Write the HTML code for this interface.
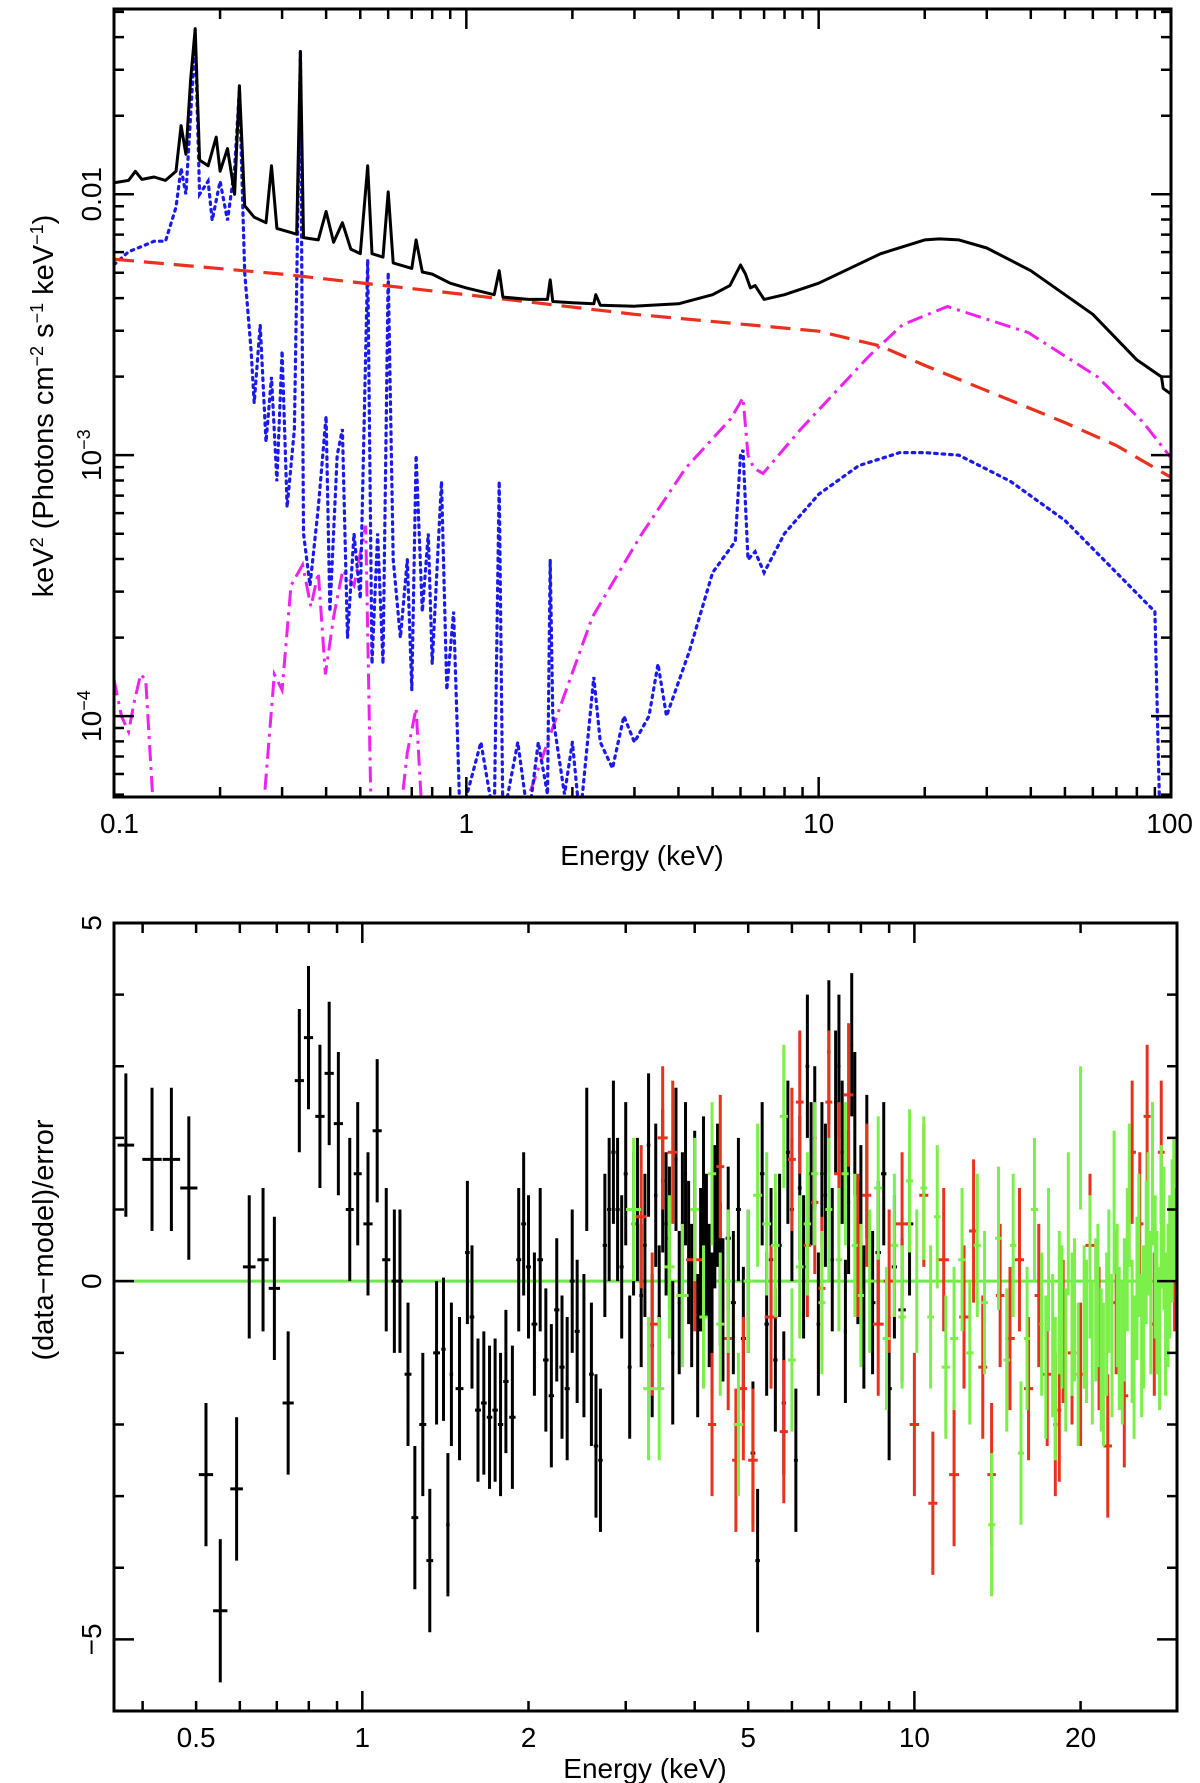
<!DOCTYPE html>
<html><head><meta charset="utf-8"><style>
body{margin:0;background:#fff}
svg{display:block;font-family:"Liberation Sans",sans-serif}
</style></head><body>
<svg id="c" width="1200" height="1783" viewBox="0 0 1200 1783" xmlns="http://www.w3.org/2000/svg">
<defs>
<clipPath id="clipTop"><rect x="114" y="9" width="1057" height="788"/></clipPath>
<clipPath id="clipBot"><rect x="114" y="923" width="1063" height="788"/></clipPath>
</defs>
<g id="top"></g>
<g id="bot"></g>
</svg>
<script>
// ---------- TOP PANEL DATA (energy keV, log10 flux) ----------
const blackE=[0.1,0.11,0.115,0.12,0.13,0.14,0.15,0.155,0.16,0.165,0.17,0.175,0.185,0.195,0.2,0.21,0.22,0.227,0.235,0.25,0.27,0.28,0.29,0.33,0.338,0.345,0.38,0.4,0.42,0.445,0.47,0.5,0.525,0.54,0.58,0.6,0.62,0.7,0.72,0.75,0.8,0.9,1,1.2,1.24,1.27,1.5,1.7,1.73,1.76,2,2.3,2.33,2.4,3,4,5,5.6,6.0,6.2,6.4,6.6,7,8,10,15,20,22,25,30,40,60,80,94,95,100];
const blackL=[-1.956,-1.947,-1.912,-1.943,-1.934,-1.947,-1.912,-1.737,-1.847,-1.562,-1.365,-1.869,-1.891,-1.781,-1.912,-1.825,-2.000,-1.584,-2.044,-2.088,-2.109,-1.891,-2.131,-2.153,-1.453,-2.166,-2.175,-2.066,-2.184,-2.109,-2.210,-2.228,-1.891,-2.228,-2.241,-1.991,-2.263,-2.284,-2.175,-2.298,-2.306,-2.341,-2.359,-2.385,-2.293,-2.394,-2.403,-2.403,-2.328,-2.411,-2.416,-2.420,-2.385,-2.425,-2.429,-2.420,-2.385,-2.350,-2.271,-2.306,-2.359,-2.350,-2.403,-2.385,-2.341,-2.228,-2.175,-2.171,-2.175,-2.206,-2.293,-2.460,-2.635,-2.700,-2.744,-2.766];
const redE=[0.1,0.3,1,3,10,15,20,30,50,70,100];
const redL=[-2.249,-2.306,-2.385,-2.460,-2.525,-2.582,-2.656,-2.753,-2.875,-2.963,-3.085];
const magE=[0.1,0.105,0.11,0.114,0.119,0.123,0.13,null,0.264,0.285,0.30,0.318,0.343,0.362,0.38,0.398,0.42,0.446,0.48,0.518,0.537,null,0.647,0.68,0.72,0.75,null,1.42,1.84,2.28,3.12,4.19,5.63,6.1,6.3,6.55,6.95,8.9,13.9,17.3,23.2,39.3,61.9,83.5,100];
const magL=[-3.86,-4.0,-4.06,-3.95,-3.84,-3.86,-4.4,null,-4.4,-3.84,-3.9,-3.50,-3.42,-3.58,-3.45,-3.84,-3.62,-3.44,-3.5,-3.27,-4.4,null,-4.4,-4.14,-3.97,-4.4,null,-4.4,-3.97,-3.62,-3.31,-3.05,-2.86,-2.78,-3.0,-3.05,-3.07,-2.90,-2.62,-2.50,-2.43,-2.53,-2.70,-2.875,-3.01];
const blueE=[0.1,0.11,0.12,0.13,0.14,0.15,0.155,0.16,0.165,0.17,0.175,0.185,0.19,0.2,0.21,0.22,0.227,0.235,0.245,0.25,0.26,0.27,0.28,0.29,0.3,0.31,0.325,0.338,0.345,0.36,0.38,0.4,0.41,0.43,0.445,0.46,0.48,0.5,0.525,0.54,0.56,0.58,0.6,0.62,0.65,0.68,0.7,0.72,0.75,0.78,0.8,0.85,0.88,0.92,0.96,1.1,1.2,1.24,1.27,1.4,1.5,1.6,1.7,1.73,1.76,1.9,2.0,2.1,2.3,2.4,2.6,2.8,3.0,3.3,3.5,3.7,4.3,5,5.8,6.0,6.1,6.3,6.6,7,8,10,13,17,20,25,35,50,70,90,93];
const blueL=[-2.27,-2.22,-2.20,-2.18,-2.18,-2.05,-1.90,-2.0,-1.70,-1.40,-2.0,-1.95,-2.1,-1.95,-2.1,-1.90,-1.60,-2.3,-2.6,-2.8,-2.5,-2.95,-2.7,-3.1,-2.6,-3.2,-2.9,-1.45,-3.3,-3.5,-3.2,-2.85,-3.6,-3.0,-2.9,-3.7,-3.3,-3.55,-2.25,-3.8,-3.3,-3.8,-2.3,-3.4,-3.7,-3.4,-3.9,-3.0,-3.6,-3.3,-3.8,-3.1,-3.9,-3.6,-4.4,-4.1,-4.4,-3.1,-4.4,-4.1,-4.4,-4.1,-4.3,-3.4,-4.0,-4.3,-4.1,-4.4,-3.85,-4.1,-4.2,-4.0,-4.1,-4.0,-3.8,-4.0,-3.75,-3.45,-3.33,-3.0,-2.98,-3.4,-3.37,-3.45,-3.3,-3.15,-3.04,-2.99,-2.99,-3.0,-3.1,-3.25,-3.45,-3.6,-4.4];
const topXTicks=[0.1,1,10,100];
const topXLabels=["0.1","1","10","100"];
const topYTicks=[-2,-3,-4];
const topYLabels=[["0.01",""],["10","−3"],["10","−4"]];

// ---------- BOTTOM PANEL DATA (energy keV, residual) ----------
const blkE=[0.373,0.416,0.451,0.485,0.521,0.553,0.592,0.624,0.661,0.693,0.734,0.769,0.799,0.838,0.871,0.905,0.949,0.981,1.024,1.064,1.105,1.143,1.17,1.21,1.245,1.287,1.325,1.363,1.403,1.429,1.45,1.50,1.55,1.58,1.62,1.66,1.70,1.74,1.78,1.82,1.87,1.92,1.96,2.00,2.05,2.10,2.15,2.20,2.25,2.30,2.35,2.40,2.45,2.52,2.55,2.6,2.65,2.7,2.75,2.8,2.85,2.9,2.95,3.0,3.05,3.1,3.15,3.2,3.25,3.3,3.35,3.4,3.45,3.5,3.55,3.6,3.65,3.7,3.75,3.8,3.85,3.9,3.95,4.0,4.05,4.1,4.15,4.2,4.25,4.3,4.35,4.4,4.45,4.5,4.6,4.7,4.8,4.9,5.0,5.1,5.2,5.3,5.4,5.5,5.6,5.7,5.8,5.9,6.0,6.1,6.2,6.3,6.4,6.5,6.6,6.7,6.8,6.9,7.0,7.1,7.2,7.3,7.4,7.5,7.6,7.7,7.8,7.9,8.0,8.1,8.2,8.4,8.6,8.8,9.0,9.2,9.5,9.8];
const blkR=[1.9,1.7,1.7,1.3,-2.7,-4.6,-2.9,0.2,0.3,-0.1,-1.7,2.8,3.4,2.3,2.9,2.2,1.0,1.5,0.8,2.1,0.3,0.0,0.0,-1.3,-3.3,-2.0,-3.9,-1.0,-0.95,-3.4,-1.3,-1.5,0.4,-0.5,-1.8,-1.7,-1.9,-1.8,-2.0,-1.4,-1.9,0.3,0.8,0.2,-0.6,0.3,-1.1,-1.6,-0.4,-1.2,-1.5,0.0,-0.7,-0.9,1.7,-1.3,-2.3,-2.5,0.5,1.0,1.8,1.0,0.2,1.5,-1.2,0.8,1.0,-0.2,0.5,1.9,-0.9,1.2,-0.5,1.4,0.8,0.6,-1.0,1.7,-0.3,0.8,1.5,0.4,-0.2,1.1,-0.9,0.3,1.3,0.5,-0.2,-0.6,0.9,1.2,0.1,-0.4,0.6,-0.3,1.0,-0.8,0.0,-2.4,-3.9,1.5,-0.6,0.3,-1.1,0.5,-1.7,1.8,1.0,-2.5,1.3,0.2,3.0,1.5,2.0,-0.6,1.5,1.2,3.2,0.3,2.5,3.0,1.8,-0.7,1.1,3.3,2.2,0.4,0.9,-0.5,1.6,-0.3,0.4,1.5,-1.5,0.2,-0.4,0.8];
const redE2=[3.2,3.35,3.5,3.65,4.0,4.3,4.45,4.6,4.75,4.9,5.1,5.5,5.8,6.0,6.2,6.4,6.6,6.8,7.0,7.3,7.6,7.9,8.2,8.6,9.0,9.5,10,10.4,10.8,11.3,11.8,12.3,12.8,13.3,13.8,14.3,14.9,15.5,16.1,16.8,17.4,18,18.3,18.6,19.3,20,20.8,21.6,22.4,23.2,24,24.8,25.6,26.4,27.2,28,28.8,29.6];
const redR=[0.9,-0.6,2.0,1.8,0.3,-2.0,1.6,-0.8,-2.5,-1.5,-2.5,-0.5,-2.1,1.7,2.5,0.5,1.1,-0.1,2.5,1.5,2.6,0.5,1.2,-0.6,0.0,0.8,-2.0,1.2,-3.1,0.3,-2.7,-0.5,0.7,-1.2,-2.7,-0.2,-0.8,0.3,-1.5,-0.2,-1.3,-2.0,-1.8,-0.7,-1.0,-1.3,0.5,-0.8,-2.3,-0.3,-1.6,1.8,0.8,2.3,-0.6,1.8,-0.2,0.3];
const grnE=[3.1,3.3,3.45,3.6,3.8,4.0,4.15,4.3,4.45,4.6,4.8,5.0,5.2,5.4,5.6,5.8,6.0,6.2,6.4,6.6,6.8,7.0,7.3,7.5,7.8,8.0,8.3,8.6,8.9,9.2,9.5,9.8,10.1,10.4,10.7,11.0,11.4,11.8,12.2,12.6,13,13.4,13.8,14.2,14.7,15.1,15.6,16,16.5,17,17.3,17.5,17.8,18,18.3,18.5,18.8,19,19.3,19.5,19.8,20,20.3,20.5,20.8,21,21.3,21.5,21.8,22,22.3,22.5,22.8,23,23.3,23.5,23.8,24,24.3,24.5,24.8,25,25.3,25.5,25.8,26,26.3,26.5,26.8,27,27.3,27.5,27.8,28,28.3,28.5,28.8,29,29.3,29.5];
const grnR=[1.0,-1.5,-1.5,0.2,-0.2,1.0,-0.5,1.5,-0.6,0.0,-2.0,0.0,1.2,0.8,0.5,2.3,-1.1,0.2,0.8,1.5,-0.3,1.0,0.3,1.5,0.5,-0.2,0.0,1.3,-0.8,0.5,-0.5,1.4,0.0,1.3,-0.5,0.9,-1.2,-0.8,0.3,-1.0,0.5,-0.3,-3.4,0.6,-1.1,0.5,-2.4,-0.8,1.0,-0.6,-1.2,0.3,-0.9,-1.5,-0.3,-0.5,-1.1,0.8,-0.6,-0.4,-1.3,2.0,-0.5,-0.7,0.2,-1.0,-0.4,-0.2,-1.1,-1.3,-0.6,0.0,-0.9,1.1,-0.2,-0.8,-1.0,-0.4,0.3,1.2,-0.7,-1.2,-0.1,0.5,-0.9,-0.5,0.4,0.8,-0.3,1.5,0.2,-0.3,-0.8,0.9,0.6,-0.6,-0.2,0.2,0.7,1.0];
const botXLabelVals=[0.5,1,2,5,10,20];
const botXLabels=["0.5","1","2","5","10","20"];
const botYLabelVals=[5,0,-5];
const botYLabels=["5","0","−5"];

const NS="http://www.w3.org/2000/svg";
function mk(tag,attrs,parent){const e=document.createElementNS(NS,tag);for(const k in attrs)e.setAttribute(k,attrs[k]);parent.appendChild(e);return e;}
const topG=document.getElementById('top'), botG=document.getElementById('bot');

const TX0=114,TX1=1171,TY0=9,TY1=797,TL0=-1,TL1=2,TYL0=-1.29,TYL1=-4.31;
const tx=e=>TX0+(Math.log10(e)-TL0)/(TL1-TL0)*(TX1-TX0);
const ty=l=>TY0+(l-TYL0)/(TYL1-TYL0)*(TY1-TY0);
const BX0=114,BX1=1177,BY0=923,BY1=1711,BL0=Math.log10(0.355),BL1=Math.log10(29.9),BR0=5,BR1=-6;
const bx=e=>BX0+(Math.log10(e)-BL0)/(BL1-BL0)*(BX1-BX0);
const by=r=>BY0+(r-BR0)/(BR1-BR0)*(BY1-BY0);

function pathFrom(E,L,fx,fy){let d="",pen=false;for(let i=0;i<E.length;i++){if(E[i]===null){pen=false;continue;}d+=(pen?"L":"M")+fx(E[i]).toFixed(1)+" "+fy(L[i]).toFixed(1);pen=true;}return d;}

const topClip=mk('g',{'clip-path':'url(#clipTop)'},topG);
let p;
p=mk('path',{d:pathFrom(magE,magL,tx,ty),fill:'none',stroke:'#ee22ee','stroke-width':3,'stroke-dasharray':'16 6 3 6'},topClip);


p=mk('path',{d:pathFrom(blueE,blueL,tx,ty),fill:'none',stroke:'#1a1aee','stroke-width':3.2,'stroke-dasharray':'2.5 5','stroke-linecap':'round'},topClip);


p=mk('path',{d:pathFrom(redE,redL,tx,ty),fill:'none',stroke:'#e8321e','stroke-width':3.2,'stroke-dasharray':'20 10'},topClip);


p=mk('path',{d:pathFrom(blackE,blackL,tx,ty),fill:'none',stroke:'#000','stroke-width':3,'stroke-linejoin':'round'},topClip);



function frame(g,x0,y0,x1,y1,name){const r=mk('rect',{x:x0,y:y0,width:x1-x0,height:y1-y0,fill:'none',stroke:'#000','stroke-width':3},g);}
frame(topG,TX0,TY0,TX1,TY1,'top-plot-frame');
let tk="";
for(let d=-1;d<2;d++){for(let m=1;m<=9;m++){const e=m*Math.pow(10,d);const x=tx(e);const len=m===1?20:10;tk+=`M${x} ${TY1}v${-len}M${x} ${TY0}v${len}`;}}
for(let d=-5;d<-1;d++){for(let m=1;m<=9;m++){const l=d+Math.log10(m);if(l>TYL0||l<TYL1)continue;const y=ty(l);const len=m===1?20:10;tk+=`M${TX0} ${y}h${len}M${TX1} ${y}h${-len}`;}}
p=mk('path',{d:tk,stroke:'#000','stroke-width':2.5,fill:'none'},topG);


topXTicks.forEach((v,i)=>{const t=mk('text',{x:tx(v),y:833,'font-size':28,'text-anchor':i===0?'start':(i===3?'end':'middle')},topG);t.textContent=topXLabels[i];
if(i===0)t.setAttribute('x',tx(v)-14);if(i===3)t.setAttribute('x',tx(v)+22);

});
topYTicks.forEach((v,i)=>{const y=ty(v);const t=mk('text',{transform:`translate(101 ${y}) rotate(-90)`,'font-size':28,'text-anchor':'middle'},topG);
t.textContent=topYLabels[i][0];
if(topYLabels[i][1]){const s=mk('tspan',{'font-size':18,dy:-11},t);s.textContent=topYLabels[i][1];}

});
let t=mk('text',{x:642,y:865,'font-size':28,'text-anchor':'middle'},topG);t.textContent="Energy (keV)";


t=mk('text',{transform:'translate(53 406) rotate(-90)','font-size':29,'text-anchor':'middle'},topG);
t.innerHTML='keV<tspan font-size="18" dy="-10">2</tspan><tspan dy="10"> (Photons cm</tspan><tspan font-size="18" dy="-10">−2</tspan><tspan dy="10"> s</tspan><tspan font-size="18" dy="-10">−1</tspan><tspan dy="10"> keV</tspan><tspan font-size="18" dy="-10">−1</tspan><tspan dy="10">)</tspan>';



const botClip=mk('g',{'clip-path':'url(#clipBot)'},botG);
p=mk('line',{x1:BX0,x2:BX1,y1:by(0),y2:by(0),stroke:'#6ee84a','stroke-width':3},botClip);


function series(E,R,color,yerr,name){const g=mk('g',{stroke:color,'stroke-width':3},botClip);


let d="";for(let i=0;i<E.length;i++){const l=Math.log10(E[i]);
const lp=i>0?Math.log10(E[i-1]):l-0.03, ln=i<E.length-1?Math.log10(E[i+1]):l+0.03;
const hw=Math.min(0.03,Math.min(l-lp,ln-l)/2);
const x=bx(E[i]),y=by(R[i]);
d+=`M${x} ${by(R[i]+yerr)}V${by(R[i]-yerr)}M${bx(Math.pow(10,l-hw))} ${y}H${bx(Math.pow(10,l+hw))}`;}
mk('path',{d:d,fill:'none'},g);}
series(blkE,blkR,'#000',1.0,'residuals-black');
series(redE2,redR,'#e8321e',1.0,'residuals-red');
series(grnE,grnR,'#7cf04a',1.0,'residuals-green');
frame(botG,BX0,BY0,BX1,BY1,'bottom-plot-frame');
tk="";
for(let d=-1;d<2;d++){for(let m=1;m<=9;m++){const e=m*Math.pow(10,d);const l=Math.log10(e);if(l<BL0||l>BL1)continue;const x=bx(e);const len=m===1?20:10;tk+=`M${x} ${BY1}v${-len}M${x} ${BY0}v${len}`;}}
for(let r=-6;r<=5;r++){const y=by(r);const len=r%5===0?20:10;tk+=`M${BX0} ${y}h${len}M${BX1} ${y}h${-len}`;}
p=mk('path',{d:tk,stroke:'#000','stroke-width':2.5,fill:'none'},botG);


botXLabelVals.forEach((v,i)=>{const t=mk('text',{x:bx(v),y:1747,'font-size':28,'text-anchor':'middle'},botG);t.textContent=botXLabels[i];

});
botYLabelVals.forEach((v,i)=>{const t=mk('text',{transform:`translate(101 ${by(v)}) rotate(-90)`,'font-size':28,'text-anchor':'middle'},botG);t.textContent=botYLabels[i];

});
t=mk('text',{x:645,y:1778,'font-size':28,'text-anchor':'middle'},botG);t.textContent="Energy (keV)";


t=mk('text',{transform:'translate(53 1240) rotate(-90)','font-size':29,'text-anchor':'middle'},botG);t.textContent="(data−model)/error";


</script>
</body></html>
